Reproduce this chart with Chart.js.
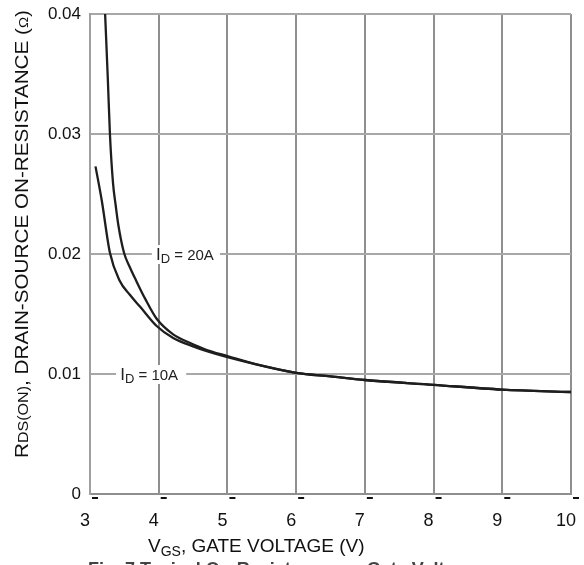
<!DOCTYPE html>
<html><head><meta charset="utf-8">
<script src="https://cdn.jsdelivr.net/npm/chart.js@4/dist/chart.umd.min.js"></script>
<style>html,body{margin:0;padding:0;background:#fff;}canvas{display:block;}</style>
</head><body>
<canvas id="c" width="584" height="565"></canvas>
<script>
// ---- data ----
const vgs10A = [3.08, 3.17, 3.29, 3.43, 3.58, 3.73, 3.97, 4.21, 4.50, 4.70, 5.00, 5.42, 6.00, 6.50, 7.00, 8.00, 9.00, 10.00];
const rds10A = [0.0273, 0.0245, 0.0201, 0.0178, 0.0166, 0.0156, 0.0140, 0.0130, 0.0123, 0.0119, 0.0114, 0.0108, 0.0101, 0.0098, 0.0095, 0.0091, 0.0087, 0.0085];
const vgs20A = [3.22, 3.26, 3.29, 3.335, 3.375, 3.41, 3.495, 3.58, 3.67, 3.80, 3.97, 4.21, 4.45, 4.70, 5.00, 5.42, 6.00, 6.50, 7.00, 8.00, 9.00, 10.00];
const rds20A = [0.0400, 0.0345, 0.0300, 0.0259, 0.0240, 0.0225, 0.0201, 0.0189, 0.0178, 0.0163, 0.0146, 0.0133, 0.0126, 0.0120, 0.0115, 0.0108, 0.0101, 0.0098, 0.0095, 0.0091, 0.0087, 0.0085];
const xTicks = [3, 4, 5, 6, 7, 8, 9, 10];
const yTicks = [0, 0.01, 0.02, 0.03, 0.04];
const curveNames = ['10A', '20A'];
const xTitleParts = ['V', 'GS', ', GATE VOLTAGE (V)'];
const yTitleParts = ['R', 'DS(ON)', ', DRAIN-SOURCE ON-RESISTANCE (', '\u03A9', ')'];
const caption = 'Fig. 7 Typical On-Resistance vs. Gate Voltage';

const FONT = "Arial, 'Liberation Sans', sans-serif";

function drawParts(ctx, parts, x, y) {
  let cx = x;
  for (const p of parts) {
    ctx.font = p.font;
    ctx.fillText(p.t, cx, y + (p.dy || 0));
    cx += ctx.measureText(p.t).width;
  }
  return cx - x;
}
function partsWidth(ctx, parts) {
  let w = 0;
  for (const p of parts) { ctx.font = p.font; w += ctx.measureText(p.t).width; }
  return w;
}

const annot = {
  id: 'annot',
  beforeDatasetsDraw(chart) {
    const { ctx, scales: { x, y } } = chart;
    ctx.save();
    const boxes = [
      { name: curveNames[1], x0: 3.90, x1: 4.89, yv: 0.02, tx: 3.96 },
      { name: curveNames[0], x0: 3.38, x1: 4.40, yv: 0.01, tx: 3.44 }
    ];
    for (const b of boxes) {
      const py = y.getPixelForValue(b.yv);
      const px0 = x.getPixelForValue(b.x0), px1 = x.getPixelForValue(b.x1);
      ctx.fillStyle = '#fff';
      ctx.fillRect(px0, py - 9, px1 - px0, 19);
      ctx.fillStyle = '#222';
      ctx.textBaseline = 'alphabetic';
      drawParts(ctx, [
        { t: 'I', font: '17px ' + FONT },
        { t: 'D', font: '13px ' + FONT, dy: 3 },
        { t: ' = ' + b.name, font: '15px ' + FONT }
      ], x.getPixelForValue(b.tx), py + 6);
    }
    ctx.restore();
  },
  afterDraw(chart) {
    const { ctx, scales: { x, y }, chartArea } = chart;
    ctx.save();
    ctx.fillStyle = '#111';
    // small tick dashes under x axis
    for (const v of xTicks) {
      const px = x.getPixelForValue(v);
      ctx.fillRect(px + 2, chartArea.bottom + 3, 6, 2);
    }
    // x title
    ctx.textBaseline = 'alphabetic';
    const xp = [
      { t: xTitleParts[0], font: '19px ' + FONT },
      { t: xTitleParts[1], font: '14px ' + FONT, dy: 4 },
      { t: xTitleParts[2], font: '19px ' + FONT }
    ];
    drawParts(ctx, xp, 148, 552);
    // y title (rotated)
    const yp = [
      { t: yTitleParts[0], font: '18px ' + FONT },
      { t: yTitleParts[1], font: '14px ' + FONT },
      { t: yTitleParts[2], font: '18px ' + FONT },
      { t: yTitleParts[3], font: '13px ' + FONT },
      { t: yTitleParts[4], font: '18px ' + FONT }
    ];
    const w = partsWidth(ctx, yp);
    const target = 448;
    ctx.translate(28, 234);
    ctx.rotate(-Math.PI / 2);
    ctx.scale(target / w, 1);
    drawParts(ctx, yp, -w / 2, 0);
    ctx.restore();
    // caption (partly cut off at the bottom)
    ctx.save();
    ctx.fillStyle = '#444';
    ctx.font = 'bold 18px ' + FONT;
    ctx.textBaseline = 'alphabetic';
    ctx.fillText(caption, 88, 575);
    ctx.restore();
  }
};

const mk = (xs, ys) => xs.map((v, i) => ({ x: v, y: ys[i] }));

new Chart(document.getElementById('c'), {
  type: 'scatter',
  data: {
    datasets: [
      { label: 'ID = ' + curveNames[0], data: mk(vgs10A, rds10A), showLine: true, borderColor: '#1e1e1e', borderWidth: 2.3, pointRadius: 0, cubicInterpolationMode: 'monotone', fill: false },
      { label: 'ID = ' + curveNames[1], data: mk(vgs20A, rds20A), showLine: true, borderColor: '#1e1e1e', borderWidth: 2.3, pointRadius: 0, cubicInterpolationMode: 'monotone', fill: false }
    ]
  },
  options: {
    responsive: false,
    animation: false,
    devicePixelRatio: 1,
    layout: { padding: { top: 14, right: 13, left: 0, bottom: 0 } },
    plugins: { legend: { display: false }, tooltip: { enabled: false } },
    scales: {
      x: {
        type: 'linear', min: 3, max: 10,
        afterBuildTicks: s => { s.ticks = xTicks.map(v => ({ value: v })); },
        afterFit: s => { s.height = 71; s.paddingLeft = 0; s.paddingRight = 0; },
        grid: { color: '#8f8f8f', lineWidth: 2, drawTicks: false },
        border: { color: '#8f8f8f', width: 2 },
        ticks: { padding: 16, labelOffset: -5, color: '#111', font: { family: FONT, size: 18 }, maxRotation: 0, autoSkip: false }
      },
      y: {
        type: 'linear', min: 0, max: 0.04,
        afterBuildTicks: s => { s.ticks = yTicks.map(v => ({ value: v })); },
        afterFit: s => { s.width = 90; s.paddingTop = 0; s.paddingBottom = 0; },
        grid: { color: '#a8a8a8', lineWidth: 2, drawTicks: false },
        border: { color: '#a0a0a0', width: 2 },
        ticks: { padding: 9, color: '#111', font: { family: FONT, size: 17 }, callback: v => String(Number(v.toFixed(2))) }
      }
    }
  },
  plugins: [annot]
});
</script>
</body></html>
